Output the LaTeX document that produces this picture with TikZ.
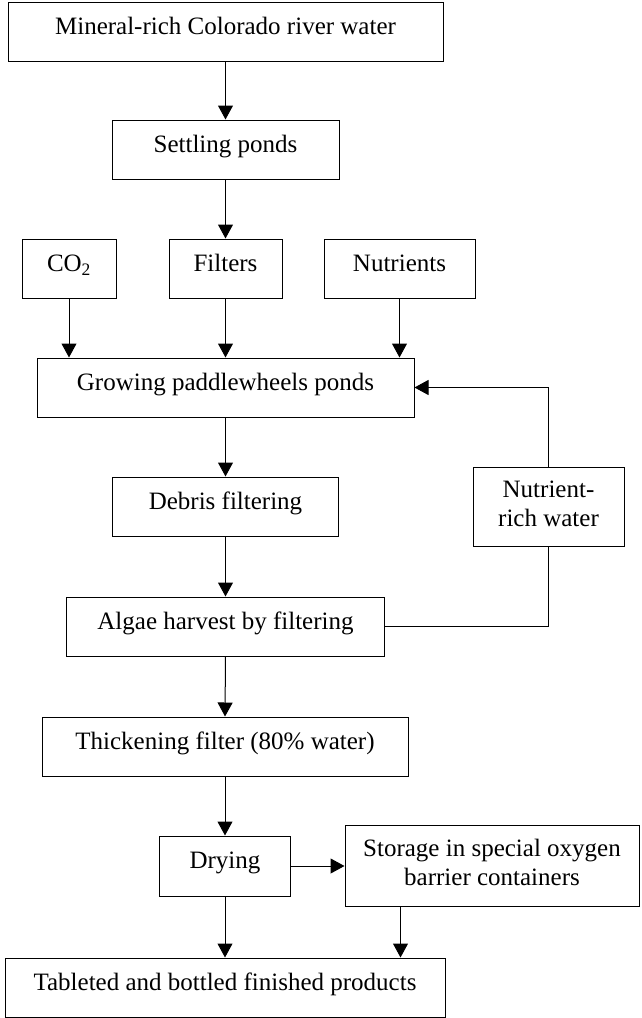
\documentclass[tikz,border=0pt]{standalone}
\usepackage{fontspec}
\setmainfont{Liberation Serif}
\usetikzlibrary{arrows.meta}
\begin{document}
\begin{tikzpicture}[x=1pt,y=-1pt,
  font=\fontsize{25}{29}\selectfont,
  box/.style={draw, line width=1pt, rectangle, inner sep=0pt, align=center,
    text height=17pt, text depth=11.4pt},
  arr/.style={line width=1pt, -{Triangle[length=14pt,width=15pt]}},
  ln/.style={line width=1pt}]
\useasboundingbox (0,0) rectangle (641,1018);
\node[box, minimum width=435pt, minimum height=59pt] (water) at (225.5,31.5) {Mineral-rich Colorado river water};
\node[box, minimum width=227pt, minimum height=59pt] (settle) at (225.5,149.5) {Settling ponds};
\node[box, minimum width=94pt, minimum height=59pt] (co2) at (69,268.5) {CO\textsubscript{2}};
\node[box, minimum width=113pt, minimum height=59pt] (filters) at (225.5,268.5) {Filters};
\node[box, minimum width=151pt, minimum height=59pt] (nutr) at (399.5,268.5) {Nutrients};
\node[box, minimum width=377pt, minimum height=59pt] (grow) at (225.5,387.5) {Growing paddlewheels ponds};
\node[box, minimum width=226pt, minimum height=59pt] (debris) at (225.5,506.5) {Debris filtering};
\node[box, minimum width=151pt, minimum height=79pt, text height=46pt, text depth=5.6pt] (nrw) at (548.5,506.5) {Nutrient-\\rich water};
\node[box, minimum width=318pt, minimum height=59pt] (algae) at (225.5,626.5) {Algae harvest by filtering};
\node[box, minimum width=366pt, minimum height=59pt] (thick) at (225,746.5) {Thickening filter (80\%{} water)};
\node[box, minimum width=131pt, minimum height=60pt] (dry) at (225,866) {Drying};
\node[box, minimum width=294pt, minimum height=81pt, text height=46pt, text depth=7pt] (store) at (492,865.5) {Storage in special oxygen\\barrier containers};
\node[box, minimum width=440pt, minimum height=59pt] (tab) at (225,987.5) {Tableted and bottled finished products};
\draw[arr] (water.south) -- (settle.north);
\draw[arr] (settle.south) -- (filters.north);
\draw[arr] (co2.south) -- (co2.south |- grow.north);
\draw[arr] (filters.south) -- (grow.north);
\draw[arr] (nutr.south) -- (nutr.south |- grow.north);
\draw[arr] (grow.south) -- (debris.north);
\draw[arr] (debris.south) -- (algae.north);
\draw[arr] (algae.south) -- (thick.north);
\draw[arr] (thick.south) -- (dry.north);
\draw[arr] (nrw.north) |- (grow.east);
\draw[ln] (algae.east) -| (nrw.south);
\draw[arr] (dry.east) -- (dry.east -| store.west);
\draw[arr] (dry.south) -- (tab.north);
\draw[arr] ([xshift=56pt]store.south west) -- ([xshift=56pt]store.south west |- tab.north);
\end{tikzpicture}
\end{document}
